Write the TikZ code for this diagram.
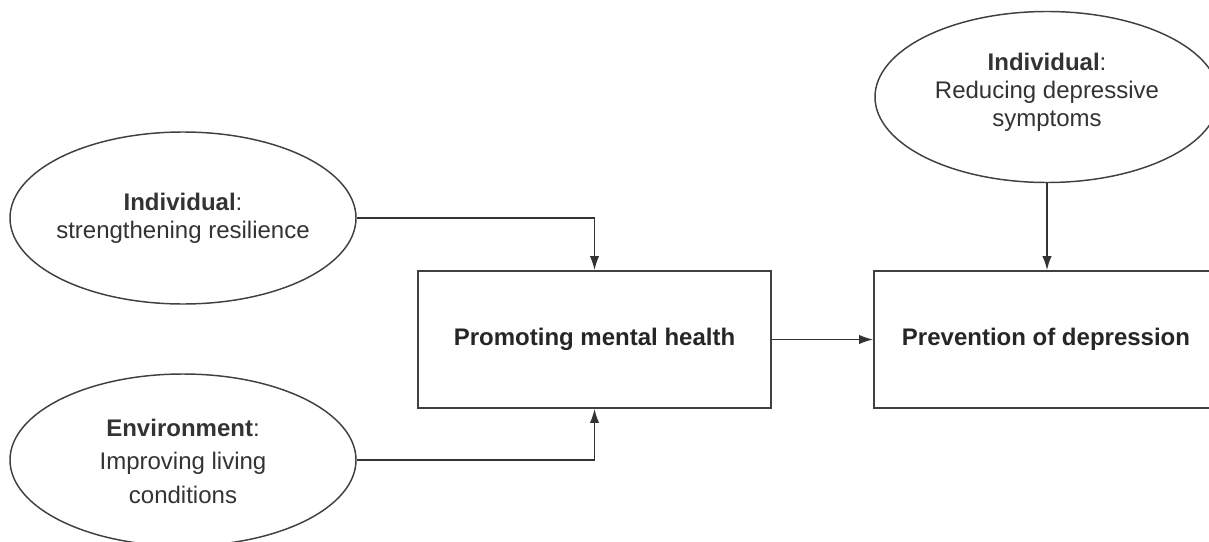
\documentclass[tikz,border=0pt]{standalone}
\usepackage{fontspec}
\setmainfont{Liberation Sans}
\usetikzlibrary{shapes.geometric}
\usetikzlibrary{arrows.meta}

\begin{document}
\begin{tikzpicture}[x=0.75pt,y=-0.75pt]
      \tikzset{myoval/.style={ellipse,draw=black!75,line width=1.1pt,inner sep=0pt,
          minimum width=259.5pt,minimum height=129pt}}
      \tikzset{ovaltext/.style={align=center,text=black!80,inner sep=0pt,
          font=\fontsize{18pt}{21pt}\selectfont}}
      \tikzset{ovaltextwide/.style={ovaltext,font=\fontsize{18pt}{25pt}\selectfont}}
      \tikzset{mybox/.style={rectangle,draw=black!75,line width=1.3pt,inner sep=0pt,
          minimum width=264.75pt,minimum height=102.75pt,text=black!85,
          font=\fontsize{18pt}{21pt}\selectfont\bfseries}}
      \tikzset{myarrow/.style={draw=black!80,line width=1.1pt,-{Latex[length=10.5pt,width=7pt]}}}
      \useasboundingbox (0,0) rectangle (1209,542);
      \clip (0,0) rectangle (1209,542);

\node[myoval,label={[ovaltext]center:{\textbf{Individual}:\\strengthening resilience}}]
      (indres) at (183,218) {};
\node[myoval,label={[ovaltextwide,yshift=-1pt]center:{\textbf{Environment}:\\Improving living\\conditions}}]
      (envliv) at (183,460) {};
\node[myoval,minimum width=258pt,minimum height=128.25pt,
      label={[ovaltext,yshift=3.5pt]center:{\textbf{Individual}:\\Reducing depressive\\symptoms}}]
      (indsym) at (1047,97) {};
\node[mybox] (promo) at (594.5,339.5) {Promoting mental health};
\node[mybox,minimum width=258pt] (prev) at (1046,339.5) {Prevention of depression};

\draw[myarrow] (indres.east) -| (promo.north);
\draw[myarrow] (envliv.east) -| (promo.south);
\draw[myarrow] (promo.east) -- (prev.west);
\draw[myarrow] (indsym.south) -- (indsym.south |- prev.north);

    \end{tikzpicture}
\end{document}
